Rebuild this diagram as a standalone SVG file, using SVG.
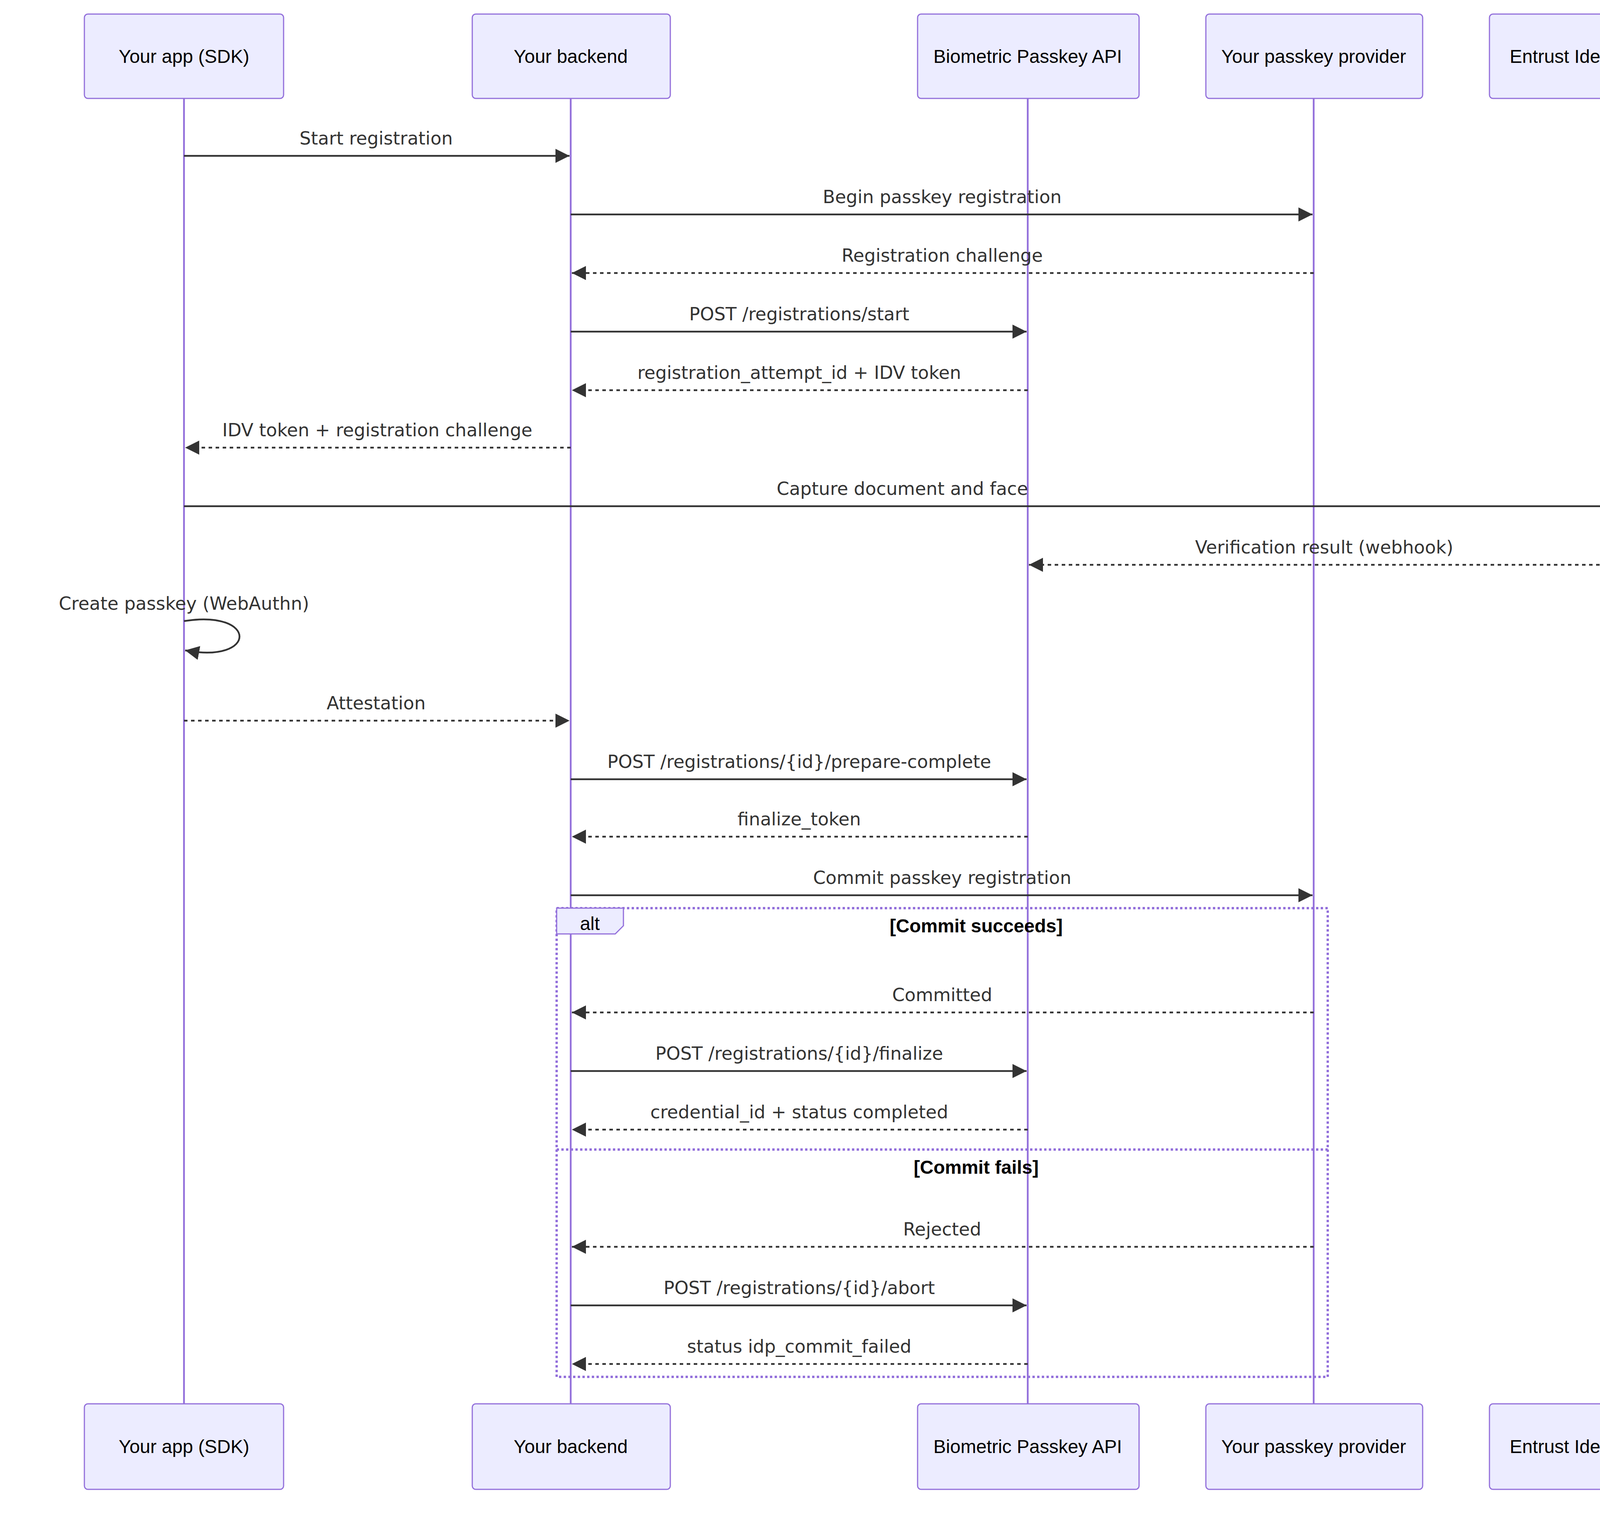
<svg xmlns="http://www.w3.org/2000/svg" width="4704" height="3894" viewBox="0 0 4704 3894">
<style>
.actor{fill:#ECECFF;stroke:#9370DB;stroke-width:3}
.at{font-family:"Liberation Sans",Arial,sans-serif;font-size:48px;fill:#000;text-anchor:middle;dominant-baseline:central}
.life{stroke:#9370DB;stroke-width:4.5}
.m{stroke:#333;stroke-width:4.5;fill:none;marker-end:url(#ah)}
.d{stroke-dasharray:9 9}
.ml{font-family:"DejaVu Sans",Verdana,sans-serif;font-size:46px;fill:#333;text-anchor:middle;dominant-baseline:central}
.alt{fill:none;stroke:#9370DB;stroke-width:6;stroke-dasharray:6 6}
</style>
<defs>
<marker id="ah" markerUnits="userSpaceOnUse" markerWidth="36" markerHeight="36" viewBox="0 0 12 12" refX="12" refY="6" orient="auto"><path d="M0,0 L12,6 L0,12 z" fill="#333"/></marker>
</defs>
<rect width="4704" height="3894" fill="#fff"/>
<g id="lifelines">
<line class="life" x1="471" y1="252" x2="471" y2="3594"/>
<line class="life" x1="1461" y1="252" x2="1461" y2="3594"/>
<line class="life" x1="2631" y1="252" x2="2631" y2="3594"/>
<line class="life" x1="3363" y1="252" x2="3363" y2="3594"/>
<line class="life" x1="4149" y1="252" x2="4149" y2="3594"/>
</g>
<g id="actor-app"><rect class="actor" x="216" y="36" width="510" height="216" rx="9"/><text class="at" x="471" y="144">Your app (SDK)</text><rect class="actor" x="216" y="3594" width="510" height="219" rx="9"/><text class="at" x="471" y="3703">Your app (SDK)</text></g>
<g id="actor-backend"><rect class="actor" x="1209" y="36" width="507" height="216" rx="9"/><text class="at" x="1461" y="144">Your backend</text><rect class="actor" x="1209" y="3594" width="507" height="219" rx="9"/><text class="at" x="1461" y="3703">Your backend</text></g>
<g id="actor-api"><rect class="actor" x="2349" y="36" width="567" height="216" rx="9"/><text class="at" x="2631" y="144">Biometric Passkey API</text><rect class="actor" x="2349" y="3594" width="567" height="219" rx="9"/><text class="at" x="2631" y="3703">Biometric Passkey API</text></g>
<g id="actor-provider"><rect class="actor" x="3087" y="36" width="555" height="216" rx="9"/><text class="at" x="3363" y="144">Your passkey provider</text><rect class="actor" x="3087" y="3594" width="555" height="219" rx="9"/><text class="at" x="3363" y="3703">Your passkey provider</text></g>
<g id="actor-entrust"><rect class="actor" x="3813" y="36" width="672" height="216" rx="9"/><text class="at" x="4149" y="144">Entrust Identity Verification</text><rect class="actor" x="3813" y="3594" width="672" height="219" rx="9"/><text class="at" x="4149" y="3703">Entrust Identity Verification</text></g>
<g id="alt-frame">
<rect class="alt" x="1425" y="2325" width="1974" height="1200"/>
<line class="alt" x1="1425" y1="2943" x2="3399" y2="2943"/>
<polygon points="1425,2325 1596,2325 1596,2370 1575,2391 1425,2391" fill="#ECECFF" stroke="#9370DB" stroke-width="3"/>
<text class="at" x="1510" y="2364">alt</text>
<text class="at" x="2499" y="2370" font-weight="bold">[Commit succeeds]</text>
<text class="at" x="2499" y="2988" font-weight="bold">[Commit fails]</text>
</g>
<g id="connectors">
<line class="m" x1="471" y1="399" x2="1458" y2="399"/><text class="ml" x="963" y="354">Start registration</text>
<line class="m" x1="1461" y1="549" x2="3360" y2="549"/><text class="ml" x="2412" y="504">Begin passkey registration</text>
<line class="m d" x1="3363" y1="699" x2="1464" y2="699"/><text class="ml" x="2412" y="654">Registration challenge</text>
<line class="m" x1="1461" y1="849" x2="2628" y2="849"/><text class="ml" x="2046" y="804">POST /registrations/start</text>
<line class="m d" x1="2631" y1="999" x2="1464" y2="999"/><text class="ml" x="2046" y="954">registration_attempt_id + IDV token</text>
<line class="m d" x1="1461" y1="1146" x2="474" y2="1146"/><text class="ml" x="966" y="1101">IDV token + registration challenge</text>
<line class="m" x1="471" y1="1296" x2="4146" y2="1296"/><text class="ml" x="2310" y="1251">Capture document and face</text>
<line class="m d" x1="4149" y1="1446" x2="2634" y2="1446"/><text class="ml" x="3390" y="1401">Verification result (webhook)</text>
<path class="m" d="M471,1590 C660,1560 660,1700 474,1665"/><text class="ml" x="471" y="1545">Create passkey (WebAuthn)</text>
<line class="m d" x1="471" y1="1845" x2="1458" y2="1845"/><text class="ml" x="963" y="1800">Attestation</text>
<line class="m" x1="1461" y1="1995" x2="2628" y2="1995"/><text class="ml" x="2046" y="1950">POST /registrations/{id}/prepare-complete</text>
<line class="m d" x1="2631" y1="2142" x2="1464" y2="2142"/><text class="ml" x="2046" y="2097">finalize_token</text>
<line class="m" x1="1461" y1="2292" x2="3360" y2="2292"/><text class="ml" x="2412" y="2247">Commit passkey registration</text>
<line class="m d" x1="3363" y1="2592" x2="1464" y2="2592"/><text class="ml" x="2412" y="2547">Committed</text>
<line class="m" x1="1461" y1="2742" x2="2628" y2="2742"/><text class="ml" x="2046" y="2697">POST /registrations/{id}/finalize</text>
<line class="m d" x1="2631" y1="2892" x2="1464" y2="2892"/><text class="ml" x="2046" y="2847">credential_id + status completed</text>
<line class="m d" x1="3363" y1="3192" x2="1464" y2="3192"/><text class="ml" x="2412" y="3147">Rejected</text>
<line class="m" x1="1461" y1="3342" x2="2628" y2="3342"/><text class="ml" x="2046" y="3297">POST /registrations/{id}/abort</text>
<line class="m d" x1="2631" y1="3492" x2="1464" y2="3492"/><text class="ml" x="2046" y="3447">status idp_commit_failed</text>
</g>
</svg>
